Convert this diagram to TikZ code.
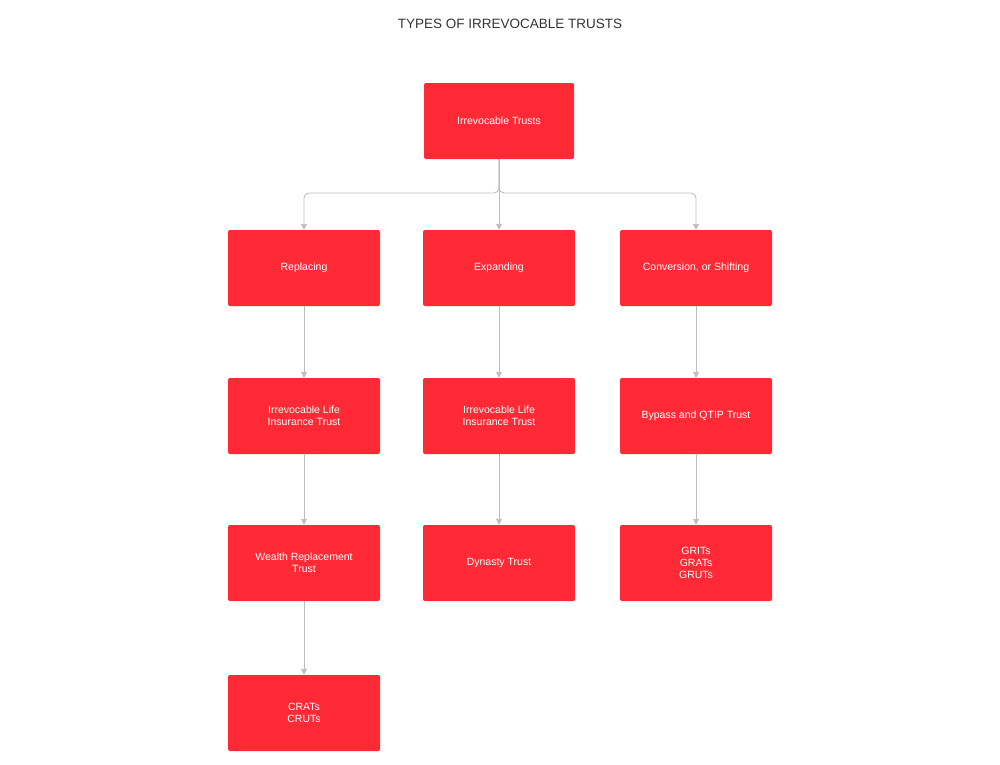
\documentclass[tikz,border=0pt]{standalone}
\usepackage{fontspec}
\setmainfont{Liberation Sans}
\usetikzlibrary{arrows.meta}
\definecolor{boxred}{HTML}{FF2A35}
\definecolor{linegray}{HTML}{BDBDBD}
\begin{document}
\begin{tikzpicture}[x=1pt,y=-1pt,
  box/.style={fill=boxred,draw=none,rounded corners=2pt,minimum width=152pt,minimum height=76pt,text=white,align=center,font=\fontsize{10.5}{12}\selectfont,inner sep=2pt},
  conn/.style={draw=linegray,line width=0.9pt,-{Triangle[length=6pt,width=6pt]}}]
\useasboundingbox (0,0) rectangle (1000,764);
\node[font=\fontsize{13.5}{16}\selectfont,text=black!80] (title) at (510,24) {TYPES OF IRREVOCABLE TRUSTS};
\node[box,minimum width=150pt] (top) at (499,121) {Irrevocable Trusts};
\node[box] (r) at (304,268) {Replacing};
\node[box] (e) at (499,268) {Expanding};
\node[box] (c) at (696,268) {Conversion, or Shifting};
\node[box] (r2) at (304,416) {Irrevocable Life\\Insurance Trust};
\node[box] (e2) at (499,416) {Irrevocable Life\\Insurance Trust};
\node[box] (c2) at (696,416) {Bypass and QTIP Trust};
\node[box] (r3) at (304,563) {Wealth Replacement\\Trust};
\node[box] (e3) at (499,563) {Dynasty Trust};
\node[box] (c3) at (696,563) {GRITs\\GRATs\\GRUTs};
\node[box] (r4) at (304,713) {CRATs\\CRUTs};
\coordinate (j) at (499,193);
\draw[conn] (top.south) -- (e.north);
\draw[conn,rounded corners=5pt] (top.south) -- (j) -| (r.north);
\draw[conn,rounded corners=5pt] (top.south) -- (j) -| (c.north);
\draw[conn] (r) -- (r2);
\draw[conn] (r2) -- (r3);
\draw[conn] (r3) -- (r4);
\draw[conn] (e) -- (e2);
\draw[conn] (e2) -- (e3);
\draw[conn] (c) -- (c2);
\draw[conn] (c2) -- (c3);
\end{tikzpicture}
\end{document}
